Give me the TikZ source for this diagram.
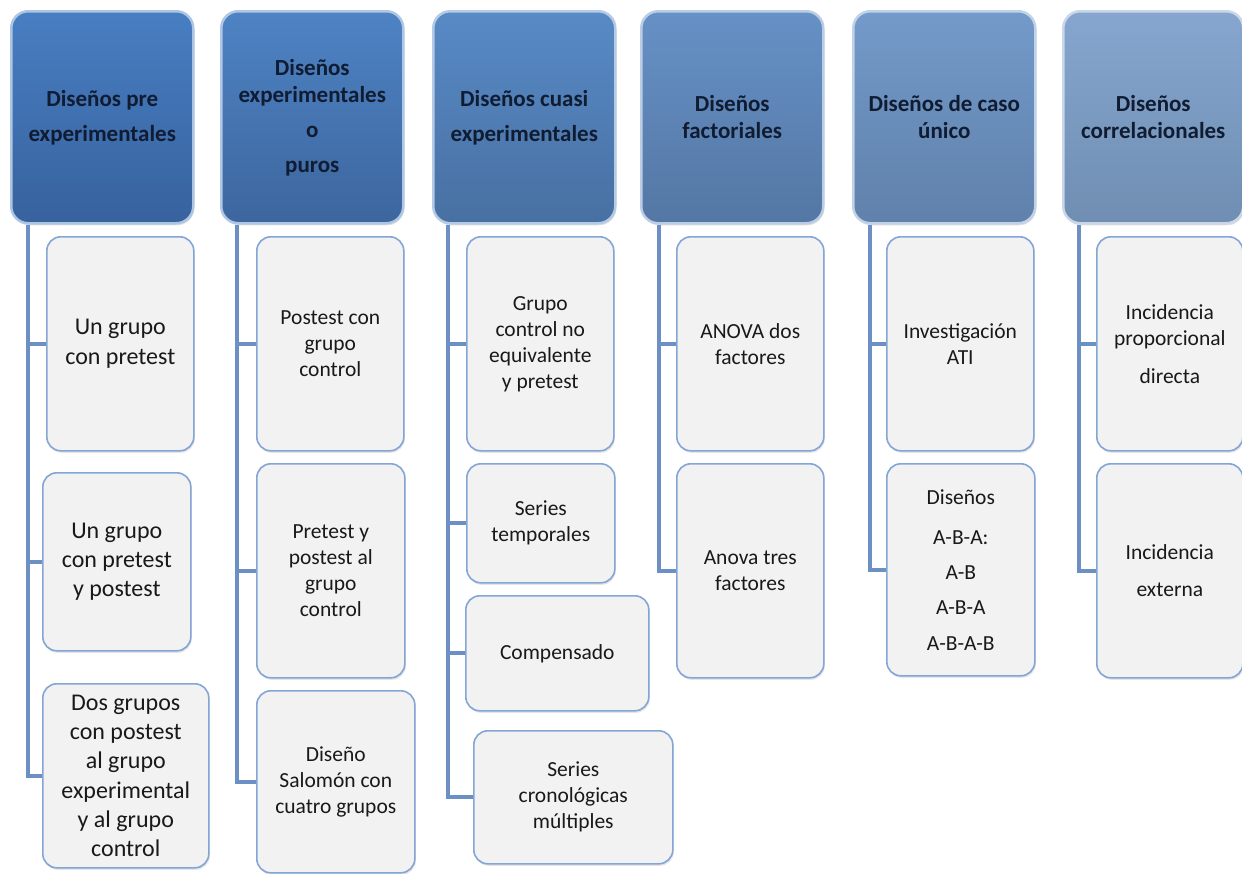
\documentclass[tikz,border=0pt]{standalone}
\usepackage{fontspec}
\setmainfont{Carlito}
\usetikzlibrary{shadows,backgrounds}
\definecolor{topA}{RGB}{72,126,194}
\definecolor{botA}{RGB}{55,98,158}
\definecolor{topB}{RGB}{78,131,196}
\definecolor{botB}{RGB}{61,102,158}
\definecolor{topC}{RGB}{88,138,198}
\definecolor{botC}{RGB}{72,112,162}
\definecolor{topD}{RGB}{102,145,198}
\definecolor{botD}{RGB}{84,119,164}
\definecolor{topE}{RGB}{115,154,202}
\definecolor{botE}{RGB}{96,129,170}
\definecolor{topF}{RGB}{134,166,207}
\definecolor{botF}{RGB}{112,142,178}
\definecolor{headtext}{RGB}{16,28,50}
\definecolor{leaffill}{RGB}{242,242,242}
\definecolor{leafdraw}{RGB}{132,166,214}
\definecolor{leaftext}{RGB}{25,25,25}
\definecolor{linkblue}{RGB}{108,143,196}
\begin{document}
\begin{tikzpicture}[x=1pt, y=-1pt,
    head/.style 2 args={rectangle, rounded corners=17pt, anchor=north west,
      top color=#1, bottom color=#2, draw=#1!45!white, line width=2.5pt,
      minimum width=182pt, minimum height=212pt, align=center, text=headtext,
      font=\fontsize{23}{27}\selectfont\bfseries,
      drop shadow={opacity=0.25, shadow xshift=1pt, shadow yshift=-2pt}},
    leaf/.style={rectangle, rounded corners=14pt, anchor=north west,
      fill=leaffill, draw=leafdraw, line width=1.6pt, inner sep=2pt,
      minimum width=147pt, minimum height=214pt, align=center, text=leaftext,
      font=\fontsize{21.5}{26}\selectfont,
      drop shadow={opacity=0.2, shadow xshift=1pt, shadow yshift=-2pt}},
    big/.style={font=\fontsize{24}{29.2}\selectfont},
    link/.style={draw=linkblue, line width=4pt}]
  \useasboundingbox (0,0) rectangle (1242,873);

  % Intestazioni
  \node (h1) at (10,10) [head={topA}{botA}] {Diseños pre\\[8pt]experimentales};
  \node (h2) at (220,10) [head={topB}{botB}] {Diseños\\experimentales\\[8pt]o\\[8pt]puros};
  \node (h3) at (432,10) [head={topC}{botC}] {Diseños cuasi\\[8pt]experimentales};
  \node (h4) at (640,10) [head={topD}{botD}] {Diseños\\factoriales};
  \node (h5) at (852,10) [head={topE}{botE}] {Diseños de caso\\único};
  \node (h6) at (1062,10) [head={topF}{botF}, minimum width=180pt] {Diseños\\correlacionales};

  % Colonna 1
  \node (c11) at (46,236) [leaf, big] {Un grupo\\con pretest};
  \node (c12) at (42,472) [leaf, big, minimum width=148pt, minimum height=178pt] {Un grupo\\con pretest\\y postest};
  \node (c13) at (42,683) [leaf, big, minimum width=166pt, minimum height=184pt] {Dos grupos\\con postest\\al grupo\\experimental\\y al grupo\\control};

  % Colonna 2
  \node (c21) at (256,236) [leaf] {Postest con\\grupo\\control};
  \node (c22) at (256,463) [leaf, minimum width=148pt] {Pretest y\\postest al\\grupo\\control};
  \node (c23) at (256,690) [leaf, minimum width=158pt, minimum height=182pt] {Diseño\\Salomón con\\cuatro grupos};

  % Colonna 3
  \node (c31) at (466,236) [leaf] {Grupo\\control no\\equivalente\\y pretest};
  \node (c32) at (466,463) [leaf, minimum width=148pt, minimum height=119pt] {Series\\temporales};
  \node (c33) at (465,595) [leaf, minimum width=183pt, minimum height=115pt] {Compensado};
  \node (c34) at (473,730) [leaf, minimum width=199pt, minimum height=133pt] {Series\\cronológicas\\múltiples};

  % Colonna 4
  \node (c41) at (676,236) [leaf] {ANOVA dos\\factores};
  \node (c42) at (676,463) [leaf] {Anova tres\\factores};

  % Colonna 5
  \node (c51) at (886,236) [leaf] {Investigación\\ATI};
  \node (c52) at (886,463) [leaf, minimum width=148pt, minimum height=212pt] {Diseños\\[14pt]A-B-A:\\[9pt]A-B\\[9pt]A-B-A\\[10pt]A-B-A-B};

  % Colonna 6
  \node (c61) at (1096,236) [leaf, minimum width=146pt] {Incidencia\\proporcional\\[12pt]directa};
  \node (c62) at (1096,463) [leaf, minimum width=146pt] {Incidencia\\[11pt]externa};

  % Collegamenti
  \begin{scope}[on background layer]
    \fill[white] (0,0) rectangle (1242,873);
    \coordinate (t1) at ([xshift=18pt]h1.south west);
    \coordinate (t2) at ([xshift=17pt]h2.south west);
    \coordinate (t3) at ([xshift=16pt]h3.south west);
    \coordinate (t4) at ([xshift=19pt]h4.south west);
    \coordinate (t5) at ([xshift=18pt]h5.south west);
    \coordinate (t6) at ([xshift=17pt]h6.south west);
    \draw[link] (t1) |- (c11.west);
    \draw[link] (t1) |- (c12.west);
    \draw[link] (t1) |- (c13.west);
    \draw[link] (t2) |- (c21.west);
    \draw[link] (t2) |- (c22.west);
    \draw[link] (t2) |- (c23.west);
    \draw[link] (t3) |- (c31.west);
    \draw[link] (t3) |- (c32.west);
    \draw[link] (t3) |- (c33.west);
    \draw[link] (t3) |- (c34.west);
    \draw[link] (t4) |- (c41.west);
    \draw[link] (t4) |- (c42.west);
    \draw[link] (t5) |- (c51.west);
    \draw[link] (t5) |- (c52.west);
    \draw[link] (t6) |- (c61.west);
    \draw[link] (t6) |- (c62.west);
  \end{scope}
\end{tikzpicture}
\end{document}
